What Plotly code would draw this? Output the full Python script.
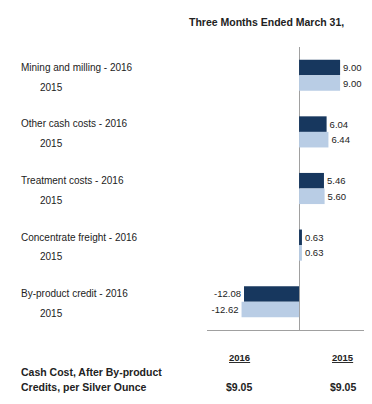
import plotly.graph_objects as go

categories = ["Mining and milling", "Other cash costs", "Treatment costs", "Concentrate freight", "By-product credit"]
values_2016 = [9.00, 6.04, 5.46, 0.63, -12.08]
values_2015 = [9.00, 6.44, 5.60, 0.63, -12.62]
summary_years = ["2016", "2015"]
summary_values = ["$9.05", "$9.05"]

DARK = "#17375E"
LIGHT = "#B9CDE5"
TXT = "#222222"
FONT = "Liberation Sans, Arial, sans-serif"

# page body has an 8px margin; compensate
OFF = 8
W, H = 372 - OFF, 404 - OFF
L, R, T, B = 207 - OFF, 0, 47 - OFF, 74
pw, ph = W - L - R, H - T - B


def px(xp):
    return (xp - OFF - L) / pw


def py(yp):
    return (H - B - (yp - OFF)) / ph


pos = list(range(len(categories)))

fig = go.Figure()
fig.add_trace(go.Bar(
    y=pos, x=values_2016, orientation="h", name="2016",
    marker=dict(color=DARK, line=dict(width=0)),
    texttemplate="%{x:.2f}", textposition="outside",
    textfont=dict(size=9.5, color=TXT, family=FONT), cliponaxis=False,
))
fig.add_trace(go.Bar(
    y=pos, x=values_2015, orientation="h", name="2015",
    marker=dict(color=LIGHT, line=dict(width=0)),
    texttemplate="%{x:.2f}", textposition="outside",
    textfont=dict(size=9.5, color=TXT, family=FONT), cliponaxis=False,
))

annotations = []
for i, c in enumerate(categories):
    annotations.append(dict(x=px(19), xref="paper", y=i - 0.14, yref="y", text=f"{c} - 2016",
                            showarrow=False, xanchor="left", yanchor="middle",
                            font=dict(size=10, color=TXT, family=FONT)))
    annotations.append(dict(x=px(38), xref="paper", y=i + 0.21, yref="y", text="2015",
                            showarrow=False, xanchor="left", yanchor="middle",
                            font=dict(size=10, color=TXT, family=FONT)))

annotations.append(dict(x=px(266), xref="paper", y=py(22), yref="paper",
                        text="<b>Three Months Ended March 31,</b>", showarrow=False,
                        xanchor="center", yanchor="middle",
                        font=dict(size=10.5, color=TXT, family=FONT)))

yr_x = [239, 343]
for xx, yr, v in zip(yr_x, summary_years, summary_values):
    annotations.append(dict(x=px(xx), xref="paper", y=py(357), yref="paper",
                            text=f"<b><u>{yr}</u></b>", showarrow=False,
                            xanchor="center", yanchor="middle",
                            font=dict(size=9.5, color=TXT, family=FONT)))
    annotations.append(dict(x=px(xx), xref="paper", y=py(387), yref="paper",
                            text=f"<b>{v}</b>", showarrow=False,
                            xanchor="center", yanchor="middle",
                            font=dict(size=10.5, color=TXT, family=FONT)))
annotations.append(dict(x=px(19), xref="paper", y=py(372), yref="paper",
                        text="<b>Cash Cost, After By-product</b>", showarrow=False,
                        xanchor="left", yanchor="middle",
                        font=dict(size=10.5, color=TXT, family=FONT)))
annotations.append(dict(x=px(19), xref="paper", y=py(387), yref="paper",
                        text="<b>Credits, per Silver Ounce</b>", showarrow=False,
                        xanchor="left", yanchor="middle",
                        font=dict(size=10.5, color=TXT, family=FONT)))

fig.update_layout(
    width=W, height=H,
    margin=dict(l=L, r=R, t=T, b=B),
    paper_bgcolor="white", plot_bgcolor="white",
    barmode="group", bargap=0.45, bargroupgap=0,
    showlegend=False,
    annotations=annotations,
    font=dict(family=FONT, color=TXT),
    xaxis=dict(range=[-20.2, 16.0], showgrid=False, zeroline=True, zerolinecolor="#A0A0A0",
               zerolinewidth=1.2, showticklabels=False, ticks="", showline=True,
               linecolor="#A0A0A0", linewidth=1.2, mirror=False, fixedrange=True),
    yaxis=dict(range=[4.5, -0.5], showgrid=False, zeroline=False, showticklabels=False,
               ticks="", showline=False, fixedrange=True),
)

fig.write_html("out.html")
